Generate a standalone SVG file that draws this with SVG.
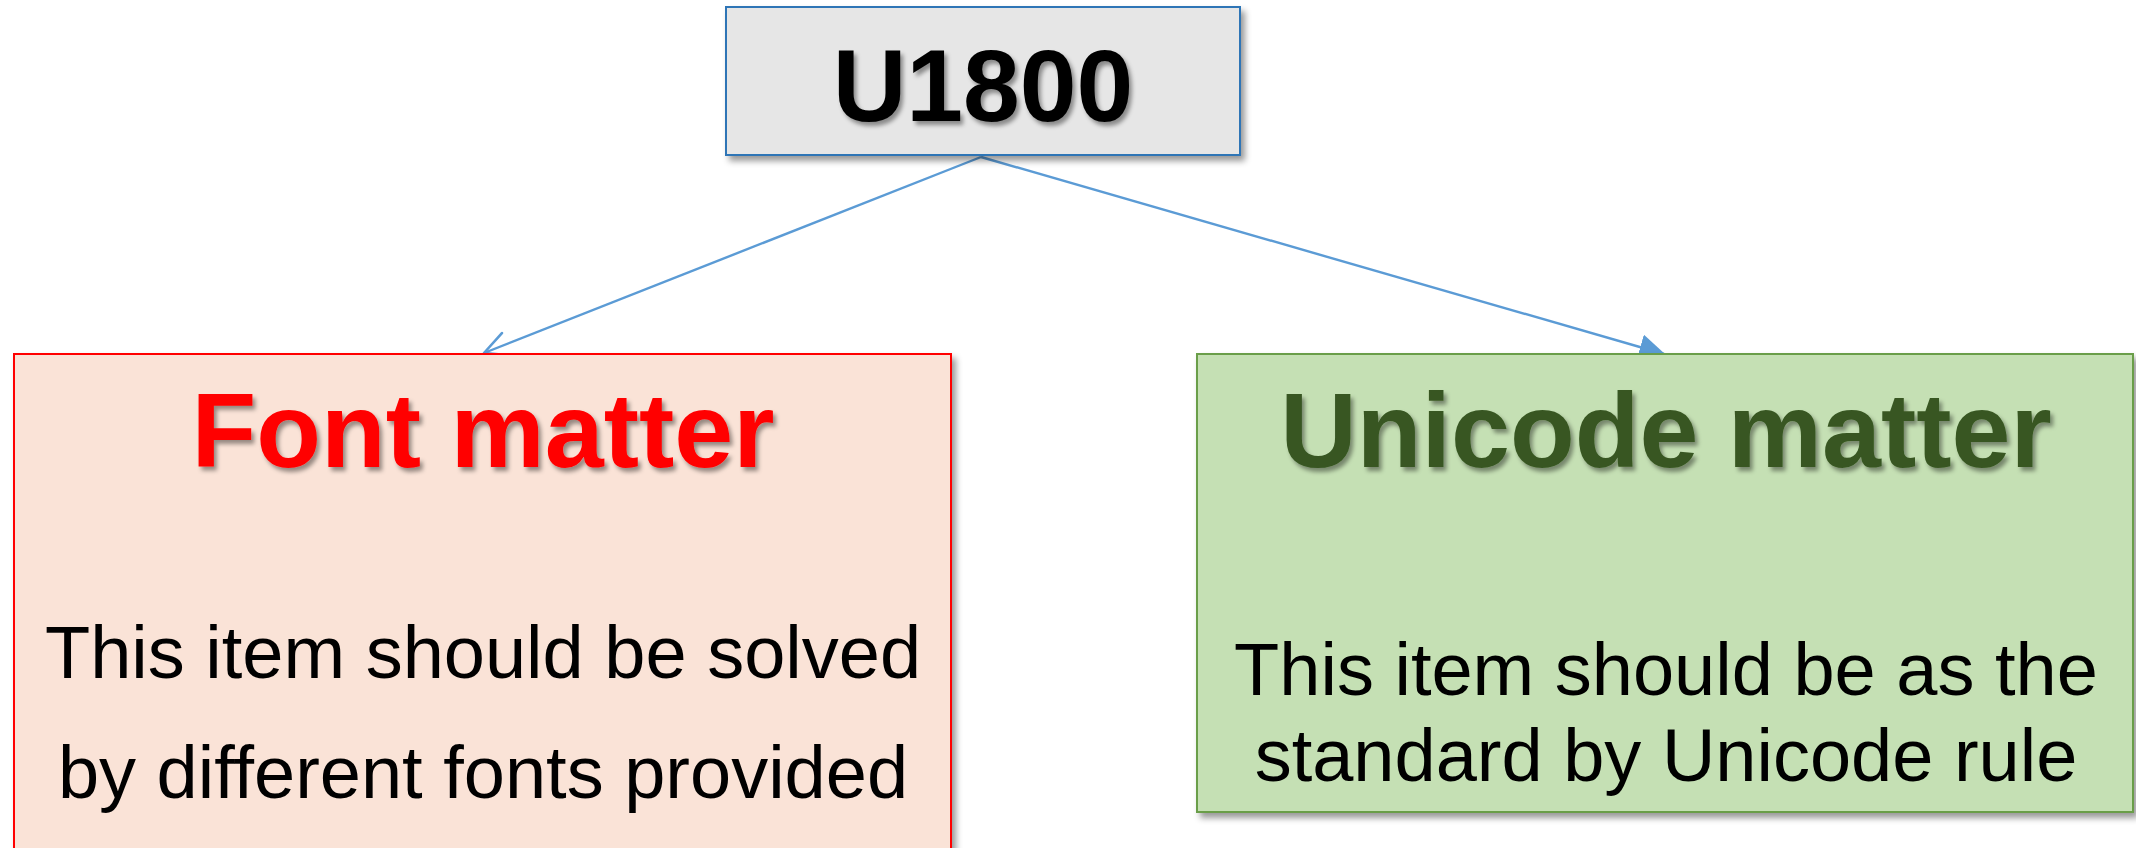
<svg xmlns="http://www.w3.org/2000/svg" width="2136" height="848" viewBox="0 0 2136 848">
<style>
.title{font-family:"Liberation Sans",Arial,sans-serif;font-weight:bold;text-anchor:middle}
.body{font-family:"Liberation Sans",Arial,sans-serif;font-size:74px;fill:#000;text-anchor:middle}
.conn{stroke:#5b9bd5;stroke-width:2.4;fill:none}
</style>
<defs>
<filter id="boxShadow" x="-5%" y="-5%" width="115%" height="120%">
<feDropShadow dx="4" dy="5" stdDeviation="3" flood-color="#000" flood-opacity="0.4"/>
</filter>
<filter id="textShadow" x="-5%" y="-10%" width="115%" height="130%">
<feDropShadow dx="3" dy="4" stdDeviation="2" flood-color="#000" flood-opacity="0.4"/>
</filter>
<marker id="openArrow" viewBox="0 0 30 30" refX="28" refY="15" markerWidth="30" markerHeight="30" markerUnits="userSpaceOnUse" orient="auto">
<path d="M4,3 L28,15 L4,27" fill="none" stroke="#5b9bd5" stroke-width="2.6" stroke-linecap="round" stroke-linejoin="round"/>
</marker>
<marker id="filledArrow" viewBox="0 0 20 20" refX="19" refY="10" markerWidth="26" markerHeight="26" markerUnits="userSpaceOnUse" orient="auto">
<path d="M0,0 L20,10 L0,20 Z" fill="#5b9bd5"/>
</marker>
</defs>
<rect width="2136" height="848" fill="#fff"/>
<g id="connectors">
<line class="conn" x1="981" y1="157" x2="484" y2="353" marker-end="url(#openArrow)"/>
<line class="conn" x1="981" y1="157" x2="1664" y2="354" marker-end="url(#filledArrow)"/>
</g>
<g id="node-u1800">
<rect x="726" y="7" width="514" height="148" fill="#e6e6e6" stroke="#2e75b6" stroke-width="2" filter="url(#boxShadow)"/>
<text class="title" x="983" y="121" font-size="102" fill="#000" filter="url(#textShadow)">U1800</text>
</g>
<g id="node-font">
<rect x="14" y="354" width="937" height="520" fill="#fae3d7" stroke="#ff0000" stroke-width="2" filter="url(#boxShadow)"/>
<text class="title" x="483" y="467" font-size="106" fill="#ff0000" filter="url(#textShadow)">Font matter</text>
<text class="body" x="483" y="678">This item should be solved</text>
<text class="body" x="483" y="798">by different fonts provided</text>
</g>
<g id="node-unicode">
<rect x="1197" y="354" width="936" height="458" fill="#c5e0b4" stroke="#6a9e48" stroke-width="2" filter="url(#boxShadow)"/>
<text class="title" x="1666" y="467" font-size="106" fill="#385723" filter="url(#textShadow)">Unicode matter</text>
<text class="body" x="1666" y="695">This item should be as the</text>
<text class="body" x="1666" y="781">standard by Unicode rule</text>
</g>
</svg>
